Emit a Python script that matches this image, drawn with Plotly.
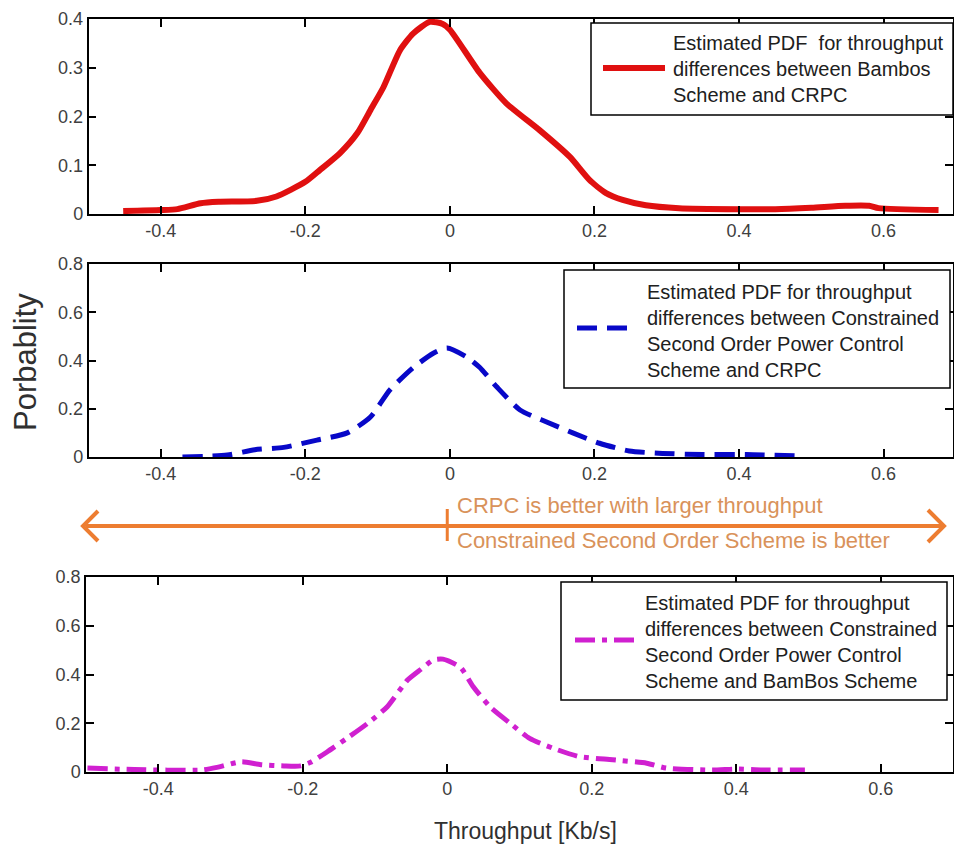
import plotly.graph_objects as go

# ---------------- data ----------------
x_bambos_crpc = [-0.452, -0.40, -0.377, -0.345, -0.32, -0.267, -0.24, -0.20, -0.18, -0.152, -0.128,
                 -0.11, -0.092, -0.069, -0.051, -0.028, -0.01, 0.0, 0.041, 0.078, 0.124, 0.166,
                 0.193, 0.216, 0.239, 0.271, 0.317, 0.40, 0.45, 0.50, 0.547, 0.58, 0.593, 0.676]
y_bambos_crpc = [0.006, 0.008, 0.010, 0.022, 0.025, 0.027, 0.036, 0.066, 0.090, 0.125, 0.166,
                 0.213, 0.260, 0.336, 0.370, 0.394, 0.390, 0.378, 0.290, 0.227, 0.172, 0.117,
                 0.070, 0.043, 0.029, 0.018, 0.012, 0.010, 0.010, 0.013, 0.017, 0.017, 0.012, 0.008]

x_cso_crpc = [-0.37, -0.308, -0.27, -0.23, -0.184, -0.142, -0.11, -0.083, -0.051, -0.023, -0.004,
              0.023, 0.041, 0.065, 0.097, 0.133, 0.17, 0.207, 0.248, 0.294, 0.35, 0.41, 0.487]
y_cso_crpc = [0.0, 0.008, 0.03, 0.04, 0.07, 0.10, 0.166, 0.278, 0.37, 0.43, 0.452,
              0.415, 0.372, 0.29, 0.195, 0.146, 0.10, 0.057, 0.025, 0.015, 0.01, 0.01, 0.004]

x_cso_bambos = [-0.498, -0.433, -0.34, -0.317, -0.285, -0.258, -0.226, -0.203, -0.189, -0.166,
                -0.138, -0.11, -0.083, -0.055, -0.037, -0.019, -0.006, 0.018, 0.036, 0.059,
                0.087, 0.114, 0.146, 0.183, 0.229, 0.276, 0.303, 0.367, 0.40, 0.436, 0.495]
y_cso_bambos = [0.016, 0.01, 0.008, 0.02, 0.042, 0.03, 0.025, 0.025, 0.04, 0.083,
                0.14, 0.20, 0.268, 0.377, 0.42, 0.46, 0.463, 0.43, 0.35, 0.268,
                0.20, 0.138, 0.098, 0.063, 0.05, 0.036, 0.016, 0.008, 0.012, 0.008, 0.008]

x_tickvals = [-0.4, -0.2, 0, 0.2, 0.4, 0.6]
x_ticktext = ["-0.4", "-0.2", "0", "0.2", "0.4", "0.6"]
y1_tickvals = [0, 0.1, 0.2, 0.3, 0.4]
y1_ticktext = ["0", "0.1", "0.2", "0.3", "0.4"]
y23_tickvals = [0, 0.2, 0.4, 0.6, 0.8]
y23_ticktext = ["0", "0.2", "0.4", "0.6", "0.8"]

legend_texts = [
    "Estimated PDF  for throughput<br>differences between Bambos<br>Scheme and CRPC",
    "Estimated PDF for throughput<br>differences between Constrained<br>Second Order Power Control<br>Scheme and CRPC",
    "Estimated PDF for throughput<br>differences between Constrained<br>Second Order Power Control<br>Scheme and BamBos Scheme",
]
arrow_text_top = "CRPC is better with larger throughput"
arrow_text_bottom = "Constrained Second Order Scheme is better"

# ---------------- layout helpers ----------------
W, H = 954, 848
def px(v):
    return v / W
def py(v):
    return 1 - v / H

RED = "#E01010"
BLUE = "#0808C8"
MAG = "#D020D0"
ORANGE = "#ED7D31"
ORANGE_TXT = "#D9925A"
FONT = "Liberation Sans, Arial, sans-serif"

fig = go.Figure()
fig.add_trace(go.Scatter(x=x_bambos_crpc, y=y_bambos_crpc, mode="lines", xaxis="x", yaxis="y",
                         name="Bambos vs CRPC", showlegend=False,
                         line=dict(color=RED, width=6, shape="spline", smoothing=0.6)))
fig.add_trace(go.Scatter(x=x_cso_crpc, y=y_cso_crpc, mode="lines", xaxis="x2", yaxis="y2",
                         name="Constrained SO vs CRPC", showlegend=False,
                         line=dict(color=BLUE, width=5, dash="20px,10px", shape="spline", smoothing=0.6)))
fig.add_trace(go.Scatter(x=x_cso_bambos, y=y_cso_bambos, mode="lines", xaxis="x3", yaxis="y3",
                         name="Constrained SO vs BamBos", showlegend=False,
                         line=dict(color=MAG, width=5, dash="20px,7px,5px,7px", shape="spline", smoothing=0.6)))

axis_common = dict(showline=True, linecolor="black", linewidth=1.5, mirror="ticks",
                   ticks="inside", ticklen=8, tickwidth=1.5, tickcolor="black",
                   showgrid=False, zeroline=False, automargin=False,
                   tickfont=dict(family=FONT, size=18, color="#404040"))

x_dom12 = [px(88.5), px(953)]
x_dom3 = [px(86), px(953)]
fig.update_layout(
    width=W, height=H, margin=dict(l=0, r=0, t=0, b=0),
    paper_bgcolor="white", plot_bgcolor="white", template="none",
    xaxis=dict(domain=x_dom12, range=[-0.5, 0.696], anchor="y", tickvals=x_tickvals, ticktext=x_ticktext, **axis_common),
    yaxis=dict(domain=[py(214), py(19)], range=[0, 0.4], anchor="x", tickvals=y1_tickvals, ticktext=y1_ticktext, **axis_common),
    xaxis2=dict(domain=x_dom12, range=[-0.5, 0.696], anchor="y2", tickvals=x_tickvals, ticktext=x_ticktext, **axis_common),
    yaxis2=dict(domain=[py(457), py(264)], range=[0, 0.8], anchor="x2", tickvals=y23_tickvals, ticktext=y23_ticktext, **axis_common),
    xaxis3=dict(domain=x_dom3, range=[-0.5, 0.7], anchor="y3", tickvals=x_tickvals, ticktext=x_ticktext, **axis_common),
    yaxis3=dict(domain=[py(772), py(577)], range=[0, 0.8], anchor="x3", tickvals=y23_tickvals, ticktext=y23_ticktext, **axis_common),
)

shapes = []
annotations = []

# legend boxes
legend_specs = [
    # box (x0,y0,x1,y1), sample (x0,x1,y), text (x, ycenter), color, dash, width
    ((591, 23, 953, 115), (603, 665, 68), (671, 69), RED, "solid", 6),
    ((564, 270, 950, 388), (577, 632, 328), (645, 331), BLUE, "20px,10px", 5),
    ((561, 582, 947, 700), (575, 637, 640), (643, 642), MAG, "20px,7px,5px,7px", 5),
]
for (bx0, by0, bx1, by1), (sx0, sx1, sy), (tx, ty), col, dash, lw in legend_specs:
    pass
for i, ((bx0, by0, bx1, by1), (sx0, sx1, sy), (tx, ty), col, dash, lw) in enumerate(legend_specs):
    shapes.append(dict(type="rect", xref="paper", yref="paper", x0=px(bx0), x1=px(bx1), y0=py(by1), y1=py(by0),
                       line=dict(color="black", width=1.5), fillcolor="white", layer="above"))
    shapes.append(dict(type="line", xref="paper", yref="paper", x0=px(sx0), x1=px(sx1), y0=py(sy), y1=py(sy),
                       line=dict(color=col, width=lw, dash=dash), layer="above"))
    annotations.append(dict(xref="paper", yref="paper", x=px(tx), y=py(ty), xanchor="left", yanchor="middle",
                            align="left", showarrow=False, text=legend_texts[i],
                            font=dict(family=FONT, size=20, color="#202020")))

# orange double arrow (x in panel-3 axis units, y in paper)
def xd(p):
    return (p - 447) / 722.5
shapes.append(dict(type="line", xref="x3", yref="paper", x0=xd(83), x1=xd(944), y0=py(526), y1=py(526),
                   line=dict(color=ORANGE, width=4)))
shapes.append(dict(type="line", xref="x3", yref="paper", x0=0, x1=0, y0=py(509), y1=py(541),
                   line=dict(color=ORANGE, width=3)))
shapes.append(dict(type="path", xref="paper", yref="paper",
                   path=f"M {px(98)},{py(511)} L {px(83)},{py(526)} L {px(98)},{py(541)}",
                   line=dict(color=ORANGE, width=4)))
shapes.append(dict(type="path", xref="paper", yref="paper",
                   path=f"M {px(928)},{py(510)} L {px(944)},{py(526)} L {px(928)},{py(542)}",
                   line=dict(color=ORANGE, width=4)))
annotations.append(dict(xref="x3", yref="paper", x=xd(455), y=py(505), xanchor="left", yanchor="middle",
                        showarrow=False, text=arrow_text_top, font=dict(family=FONT, size=22, color=ORANGE_TXT)))
annotations.append(dict(xref="x3", yref="paper", x=xd(455), y=py(540), xanchor="left", yanchor="middle",
                        showarrow=False, text=arrow_text_bottom, font=dict(family=FONT, size=22, color=ORANGE_TXT)))

# axis titles
annotations.append(dict(xref="paper", yref="paper", x=px(26), y=py(362), xanchor="center", yanchor="middle",
                        showarrow=False, text="Porbablity", textangle=-90,
                        font=dict(family=FONT, size=31, color="#303030")))
annotations.append(dict(xref="paper", yref="paper", x=px(525), y=py(831), xanchor="center", yanchor="middle",
                        showarrow=False, text="Throughput [Kb/s]",
                        font=dict(family=FONT, size=23, color="#303030")))

fig.update_layout(shapes=shapes, annotations=annotations)
fig.write_html("out.html")
